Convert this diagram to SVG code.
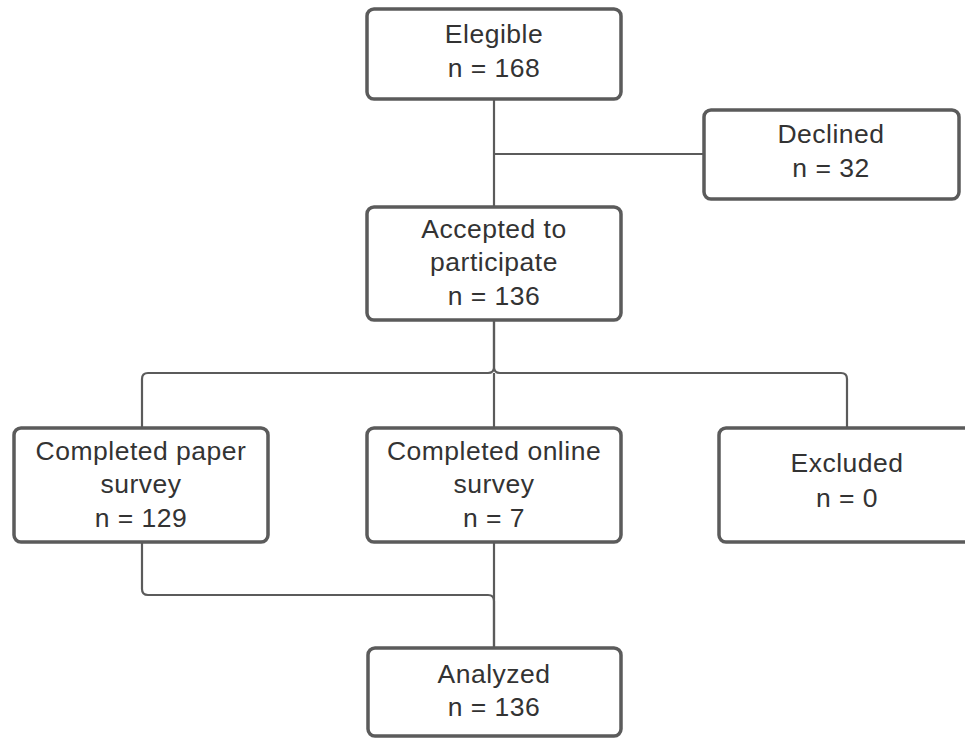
<svg xmlns="http://www.w3.org/2000/svg" width="965" height="738" viewBox="0 0 965 738">
<style>
.box{fill:#ffffff;stroke:#5b5b5b;stroke-width:3.5}
.ln{fill:none;stroke:#5b5b5b;stroke-width:2.2}
text{font-family:"Liberation Sans",Arial,sans-serif;font-size:26.5px;letter-spacing:0.5px;fill:#333333;text-anchor:middle}
</style>
<rect width="965" height="738" fill="#ffffff"/>
<g id="connectors">
<path class="ln" d="M494,99 V207"/>
<path class="ln" d="M494,154 H704"/>
<path class="ln" d="M494,320 V367 Q494,373 488,373 H148 Q142,373 142,379 V428"/>
<path class="ln" d="M494,320 V367 Q494,373 500,373 H841 Q847,373 847,379 V428"/>
<path class="ln" d="M494,373 V428"/>
<path class="ln" d="M142,542 V589 Q142,595 148,595 H488 Q494,595 494,601 V648"/>
<path class="ln" d="M494,542 V648"/>
</g>
<g id="elegible">
<rect class="box" x="367" y="9" width="254" height="90" rx="7"/>
<text x="494" y="43">Elegible</text>
<text x="494" y="77">n = 168</text>
</g>
<g id="declined">
<rect class="box" x="704" y="110" width="255" height="89" rx="7"/>
<text x="831" y="143">Declined</text>
<text x="831" y="177">n = 32</text>
</g>
<g id="accepted">
<rect class="box" x="367" y="207" width="254" height="113" rx="7"/>
<text x="494" y="238">Accepted to</text>
<text x="494" y="271">participate</text>
<text x="494" y="305">n = 136</text>
</g>
<g id="paper">
<rect class="box" x="14" y="428" width="254" height="114" rx="7"/>
<text x="141" y="460">Completed paper</text>
<text x="141" y="493">survey</text>
<text x="141" y="527">n = 129</text>
</g>
<g id="online">
<rect class="box" x="367" y="428" width="254" height="114" rx="7"/>
<text x="494" y="460">Completed online</text>
<text x="494" y="493">survey</text>
<text x="494" y="527">n = 7</text>
</g>
<g id="excluded">
<rect class="box" x="719" y="428" width="257" height="114" rx="7"/>
<text x="847" y="472">Excluded</text>
<text x="847" y="507">n = 0</text>
</g>
<g id="analyzed">
<rect class="box" x="368" y="648" width="253" height="88" rx="7"/>
<text x="494" y="683">Analyzed</text>
<text x="494" y="716">n = 136</text>
</g>
</svg>
